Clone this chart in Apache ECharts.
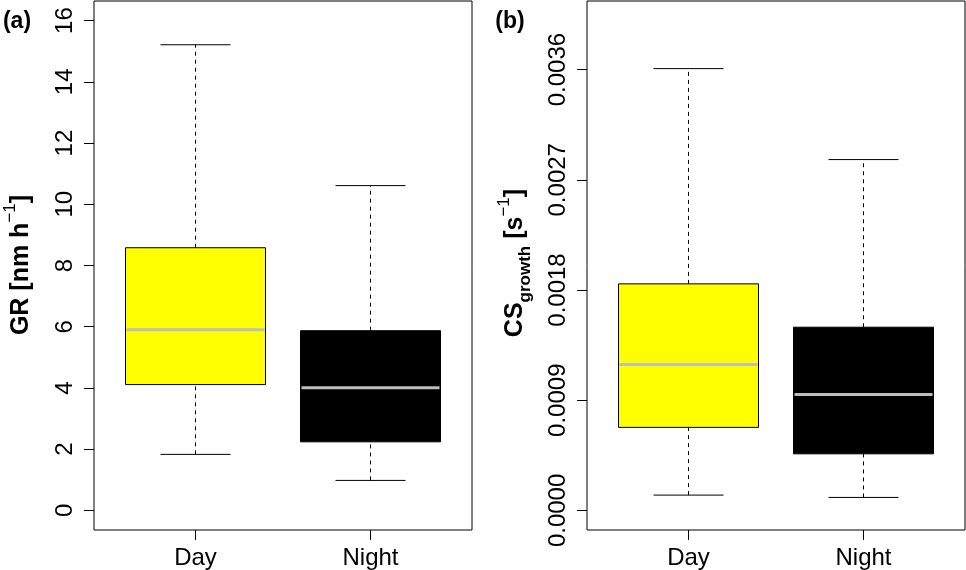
<!DOCTYPE html>
<html>
<head>
<meta charset="utf-8">
<script src="https://cdn.jsdelivr.net/npm/echarts@6/dist/echarts.min.js"></script>
<style>
html,body{margin:0;padding:0;background:#fff;}
#c{width:966px;height:570px;}
</style>
</head>
<body>
<div id="c"></div>
<script>
// ---- data ----
var categories = ['Day', 'Night'];
// [lower whisker, Q1, median, Q3, upper whisker]
var grDay   = [1.83, 4.11, 5.90, 8.58, 15.21];
var grNight = [0.98, 2.24, 4.01, 5.87, 10.61];
var csDay   = [0.000125, 0.000678, 0.001192, 0.001850, 0.003608];
var csNight = [0.000106, 0.000462, 0.000947, 0.001496, 0.002865];
var grTicks = [0, 2, 4, 6, 8, 10, 12, 14, 16];
var csTicks = [0, 0.0009, 0.0018, 0.0027, 0.0036];
var grRange = [-0.64, 16.64];
var csRange = [-0.00016, 0.00416];

// ---- styles ----
var boxColors = ['#FFFF00', '#000000'];
var FONT = '"Liberation Sans", Arial, sans-serif';
var TICK_LEN = 10;

var chart = echarts.init(document.getElementById('c'), null, {renderer: 'canvas'});

function makeRender(yMin) {
  return function (params, api) {
    var x = api.value(0);
    var lo = api.value(1), q1 = api.value(2), md = api.value(3), q3 = api.value(4), hi = api.value(5);
    var pLo = api.coord([x, lo]), pQ1 = api.coord([x, q1]), pMd = api.coord([x, md]);
    var pQ3 = api.coord([x, q3]), pHi = api.coord([x, hi]);
    var pBase = api.coord([x, yMin]);
    var half = api.size([0.4, 0])[0];
    var capHalf = api.size([0.2, 0])[0];
    var cx = pMd[0];
    var fill = boxColors[params.dataIndex];
    var lineStyle = {stroke: '#000', lineWidth: 1};
    return {
      type: 'group',
      children: [
        {type: 'line', shape: {x1: cx, y1: pQ3[1], x2: cx, y2: pHi[1]}, style: {stroke: '#000', lineWidth: 1, lineDash: [4, 4]}},
        {type: 'line', shape: {x1: cx, y1: pLo[1], x2: cx, y2: pQ1[1]}, style: {stroke: '#000', lineWidth: 1, lineDash: [4, 4]}},
        {type: 'line', shape: {x1: cx - capHalf, y1: pHi[1], x2: cx + capHalf, y2: pHi[1]}, style: lineStyle},
        {type: 'line', shape: {x1: cx - capHalf, y1: pLo[1], x2: cx + capHalf, y2: pLo[1]}, style: lineStyle},
        {type: 'rect', shape: {x: cx - half, y: pQ3[1], width: 2 * half, height: pQ1[1] - pQ3[1]}, style: {fill: fill, stroke: '#000', lineWidth: 1}},
        {type: 'line', shape: {x1: cx - half + 1, y1: pMd[1], x2: cx + half - 1, y2: pMd[1]}, style: {stroke: '#BEBEBE', lineWidth: 3}},
        // category tick mark below the plot frame
        {type: 'line', shape: {x1: cx, y1: pBase[1], x2: cx, y2: pBase[1] + TICK_LEN}, style: lineStyle}
      ]
    };
  };
}

function toRows(a, b) {
  return [[1].concat(a), [2].concat(b)];
}

function xAxisDef(gi) {
  return {
    type: 'value', gridIndex: gi, min: 0.42, max: 2.58, position: 'bottom',
    axisLine: {show: false, onZero: false},
    splitLine: {show: false},
    axisTick: {show: false},
    axisLabel: {show: true, customValues: [1, 2], margin: 16, fontSize: 24, color: '#000', fontFamily: FONT,
      formatter: function (v) { return categories[Math.round(v) - 1]; }}
  };
}

function yAxisDef(gi, range, ticks, fmt) {
  return {
    type: 'value', gridIndex: gi, min: range[0], max: range[1], position: 'left',
    axisLine: {show: false, onZero: false},
    splitLine: {show: false},
    axisTick: {show: true, inside: false, length: TICK_LEN, customValues: ticks, lineStyle: {color: '#000', width: 1}},
    axisLabel: {show: true, customValues: ticks, rotate: 90, margin: 17, fontSize: 24, color: '#000', fontFamily: FONT,
      formatter: fmt}
  };
}

var titleRich = {
  b: {fontSize: 25, fontWeight: 'bold', fontFamily: FONT, color: '#000', lineHeight: 38, verticalAlign: 'middle'},
  sup: {fontSize: 17, fontWeight: 'normal', fontFamily: FONT, color: '#000', lineHeight: 17, verticalAlign: 'top'},
  sub: {fontSize: 17, fontWeight: 'bold', fontFamily: FONT, color: '#000', lineHeight: 17, verticalAlign: 'bottom'}
};

var option = {
  backgroundColor: '#fff',
  animation: false,
  grid: [
    {left: 94, top: 1, width: 378, height: 529, show: true, borderColor: '#000', borderWidth: 1, backgroundColor: 'transparent'},
    {left: 587, top: 1, width: 378, height: 529, show: true, borderColor: '#000', borderWidth: 1, backgroundColor: 'transparent'}
  ],
  xAxis: [xAxisDef(0), xAxisDef(1)],
  yAxis: [
    yAxisDef(0, grRange, grTicks, function (v) { return String(Math.round(v)); }),
    yAxisDef(1, csRange, csTicks, function (v) { return v.toFixed(4); })
  ],
  series: [
    {type: 'custom', xAxisIndex: 0, yAxisIndex: 0, renderItem: makeRender(grRange[0]), data: toRows(grDay, grNight), clip: false},
    {type: 'custom', xAxisIndex: 1, yAxisIndex: 1, renderItem: makeRender(csRange[0]), data: toRows(csDay, csNight), clip: false}
  ],
  graphic: [
    {type: 'text', x: 17, y: 22, style: {text: '(a)', font: 'bold 23px ' + FONT, fill: '#000', align: 'center', verticalAlign: 'middle'}},
    {type: 'text', x: 510, y: 22, style: {text: '(b)', font: 'bold 23px ' + FONT, fill: '#000', align: 'center', verticalAlign: 'middle'}},
    {type: 'text', x: 21, y: 265, rotation: Math.PI / 2,
      style: {text: '{b|GR [nm h}{sup|\u22121}{b|]}', rich: titleRich, align: 'center', verticalAlign: 'middle'}},
    {type: 'text', x: 515, y: 263, rotation: Math.PI / 2,
      style: {text: '{b|CS}{sub|growth}{b| [s}{sup|\u22121}{b|]}', rich: titleRich, align: 'center', verticalAlign: 'middle'}}
  ]
};
chart.setOption(option);
</script>
</body>
</html>
